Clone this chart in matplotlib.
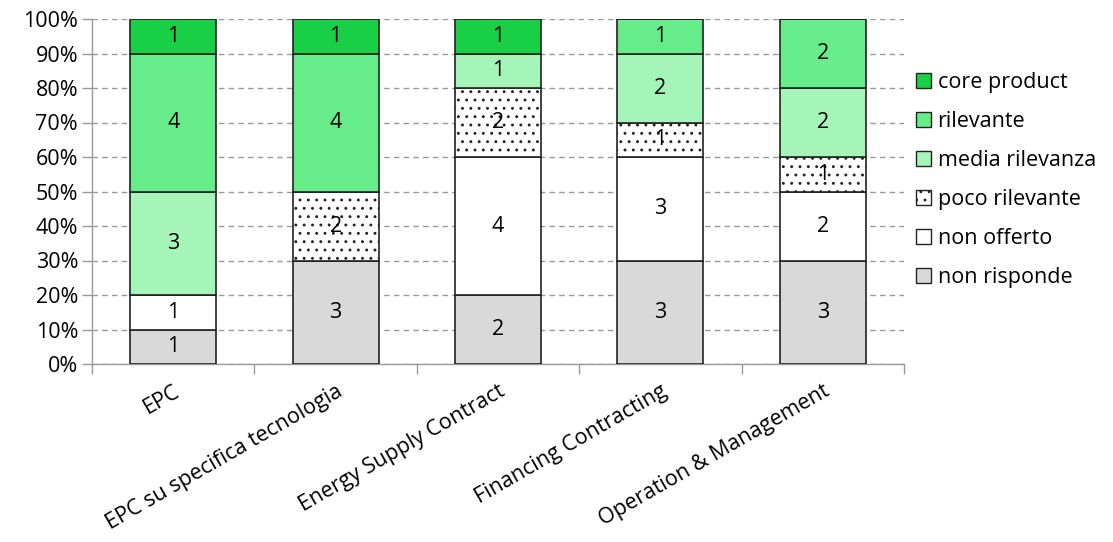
import matplotlib
matplotlib.use("Agg")
import matplotlib.pyplot as plt
import numpy as np
from matplotlib.patches import Patch

categories = ["EPC", "EPC su specifica tecnologia", "Energy Supply Contract",
              "Financing Contracting", "Operation & Management"]
series_names = ["non risponde", "non offerto", "poco rilevante",
                "media rilevanza", "rilevante", "core product"]
non_risponde = [1, 3, 2, 3, 3]
non_offerto = [1, 0, 4, 3, 2]
poco_rilevante = [0, 2, 2, 1, 1]
media_rilevanza = [3, 0, 1, 2, 2]
rilevante = [4, 4, 0, 1, 2]
core_product = [1, 1, 1, 0, 0]
yticks = [0, 10, 20, 30, 40, 50, 60, 70, 80, 90, 100]

series = [non_risponde, non_offerto, poco_rilevante, media_rilevanza, rilevante, core_product]
colors = ["#d9d9d9", "#ffffff", "#ffffff", "#a6f5b8", "#66ec88", "#19cf45"]
hatches = [None, None, "..", None, None, None]

plt.rcParams['font.family'] = ['Open Sans', 'DejaVu Sans']
plt.rcParams['hatch.linewidth'] = 0.9

FS = 15.5
fig = plt.figure(figsize=(11.13, 5.42), dpi=100)
ax = fig.add_axes([92/1113, 1-364/542, (904-92)/1113, (364-19)/542])

data = np.array(series, dtype=float)
totals = data.sum(axis=0)
pct = data / totals * 100
x = np.arange(len(categories))
bottom = np.zeros(len(categories))
for i, name in enumerate(series_names):
    ax.bar(x, pct[i], bottom=bottom, width=0.53, color=colors[i],
           edgecolor="#222222", linewidth=1.2, hatch=hatches[i], zorder=3,
           label=name)
    for j in range(len(categories)):
        if data[i][j] > 0:
            ax.text(x[j], bottom[j] + pct[i][j] / 2, f"{int(data[i][j])}",
                    ha="center", va="center", fontsize=FS, color="#000000", zorder=4)
    bottom += pct[i]

ax.set_xlim(-0.5, len(categories) - 0.5)
ax.set_ylim(0, 100)
ax.set_yticks(yticks)
ax.set_yticklabels([f"{v}%" for v in yticks], fontsize=FS)
ax.yaxis.grid(True, linestyle=(0, (4, 3)), color="#999999", linewidth=1.0, zorder=0)
ax.set_axisbelow(True)

ax.set_xticks(x)
ax.set_xticklabels(categories, rotation=30, ha="right", rotation_mode="anchor", fontsize=FS)
ax.tick_params(axis="x", length=0, pad=12)
ax.set_xticks(np.arange(-0.5, len(categories)), minor=True)
ax.tick_params(axis="x", which="minor", length=7, color="#999999", width=1.0)
ax.tick_params(axis="y", length=7, color="#999999", width=1.0, pad=3)

for s in ["top", "right"]:
    ax.spines[s].set_visible(False)
for s in ["left", "bottom"]:
    ax.spines[s].set_color("#999999")
    ax.spines[s].set_linewidth(1.0)

handles = []
for i in reversed(range(len(series_names))):
    handles.append(Patch(facecolor=colors[i], edgecolor="#222222", hatch=hatches[i],
                         linewidth=1.0, label=series_names[i]))
fig.legend(handles=handles, loc="upper left", bbox_to_anchor=(916/1113, 1-72/542),
           frameon=False, fontsize=FS, handlelength=0.7, handleheight=0.7,
           handletextpad=0.3, labelspacing=0.84, borderaxespad=0, borderpad=0)

fig.savefig("out.png", dpi=100)
